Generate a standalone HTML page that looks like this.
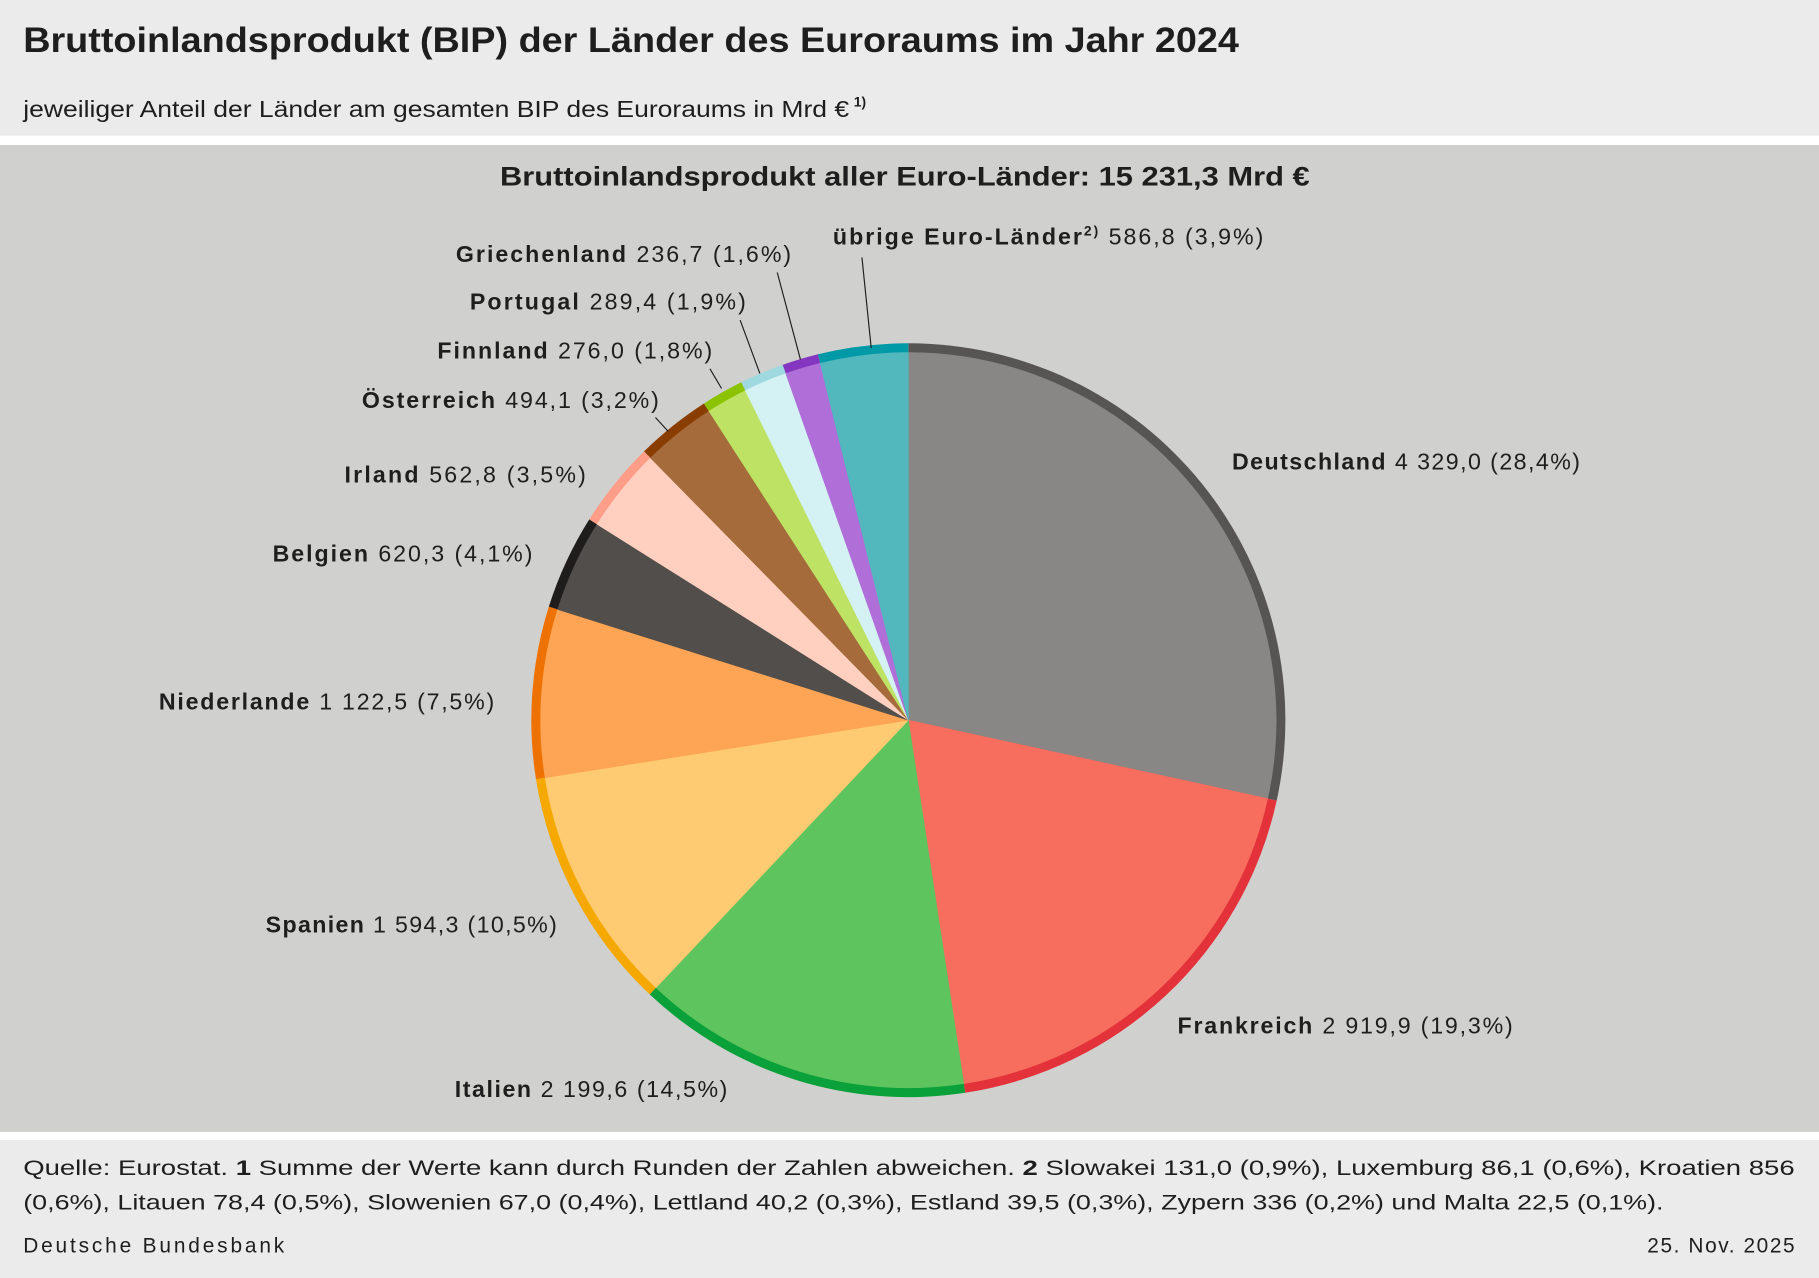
<!DOCTYPE html>
<html><head><meta charset="utf-8"><style>
html,body{margin:0;padding:0;background:#fff}
svg{display:block}
text{font-family:"Liberation Sans",sans-serif;fill:#1e1e1e}
.b{font-weight:bold}
</style></head><body>
<svg id="s" width="1819" height="1278" viewBox="0 0 1568 1102" preserveAspectRatio="none" xmlns="http://www.w3.org/2000/svg">
<rect x="0" y="0" width="1568" height="117" fill="#ebebeb"/>
<rect x="0" y="125" width="1568" height="851" fill="#d0d0ce"/>
<rect x="0" y="983" width="1568" height="119" fill="#ebebeb"/>
<text x="20" y="45" class="b" font-size="30" textLength="1048" lengthAdjust="spacingAndGlyphs">Bruttoinlandsprodukt (BIP) der Länder des Euroraums im Jahr 2024</text>
<text x="20" y="101" font-size="20" textLength="712" lengthAdjust="spacingAndGlyphs">jeweiliger Anteil der Länder am gesamten BIP des Euroraums in Mrd €</text>
<text x="736" y="92" font-size="12" class="b">1)</text>
<text x="431" y="160" class="b" font-size="23" textLength="698" lengthAdjust="spacingAndGlyphs">Bruttoinlandsprodukt aller Euro-Länder: 15 231,3 Mrd €</text>
<g id="pie"></g>
<g stroke="#1e1e1e" stroke-width="1">
<line x1="743" y1="222" x2="751" y2="300"/>
<line x1="670" y1="235" x2="690" y2="310"/>
<line x1="638" y1="276" x2="655" y2="322"/>
<line x1="612" y1="318" x2="622" y2="335"/>
<line x1="565" y1="360" x2="576" y2="372"/>
</g>
<g font-size="20">
<text x="718" y="211" textLength="371"><tspan class="b">übrige Euro-Länder</tspan><tspan class="b" font-size="12" dy="-8">2)</tspan><tspan dy="8"> 586,8  (3,9%)</tspan></text>
<text x="393" y="226" textLength="289"><tspan class="b">Griechenland</tspan> 236,7  (1,6%)</text>
<text x="405" y="267" textLength="238"><tspan class="b">Portugal</tspan> 289,4  (1,9%)</text>
<text x="377" y="309" textLength="237"><tspan class="b">Finnland</tspan> 276,0  (1,8%)</text>
<text x="312" y="352" textLength="256"><tspan class="b">Österreich</tspan> 494,1  (3,2%)</text>
<text x="297" y="416" textLength="208"><tspan class="b">Irland</tspan> 562,8  (3,5%)</text>
<text x="235" y="484" textLength="224"><tspan class="b">Belgien</tspan> 620,3  (4,1%)</text>
<text x="137" y="612" textLength="289"><tspan class="b">Niederlande</tspan> 1 122,5  (7,5%)</text>
<text x="229" y="804" textLength="251"><tspan class="b">Spanien</tspan> 1 594,3 (10,5%)</text>
<text x="392" y="946" textLength="235"><tspan class="b">Italien</tspan> 2 199,6 (14,5%)</text>
<text x="1015" y="891" textLength="289"><tspan class="b">Frankreich</tspan> 2 919,9  (19,3%)</text>
<text x="1062" y="405" textLength="300"><tspan class="b">Deutschland</tspan> 4 329,0 (28,4%)</text>
</g>
<g font-size="18">
<text x="20" y="1013" textLength="1527" lengthAdjust="spacingAndGlyphs">Quelle: Eurostat. <tspan class="b">1</tspan> Summe der Werte kann durch Runden der Zahlen abweichen. <tspan class="b">2</tspan> Slowakei 131,0 (0,9%), Luxemburg 86,1 (0,6%), Kroatien 856</text>
<text x="20" y="1043" textLength="1414" lengthAdjust="spacingAndGlyphs">(0,6%), Litauen 78,4 (0,5%), Slowenien 67,0 (0,4%), Lettland 40,2 (0,3%), Estland 39,5 (0,3%), Zypern 336 (0,2%) und Malta 22,5 (0,1%).</text>
<text x="20" y="1080" textLength="225">Deutsche Bundesbank</text>
<text x="1420" y="1080" textLength="127">25. Nov. 2025</text>
</g>
</svg>
<script>
var d=[[4329.0,"#888785","#575553"],[2919.9,"#f76d5e","#e3323a"],[2199.6,"#5ec45e","#0aa03a"],[1594.3,"#fecb72","#f5a800"],[1122.5,"#fda555","#ee7203"],[620.3,"#524e4b","#1f1d1b"],[562.8,"#ffd0c0","#ff9e88"],[494.1,"#a66b3b","#8a3d00"],[276.0,"#bde264","#8cc300"],[289.4,"#d4f1f3","#9ed9e0"],[236.7,"#b06fd8","#8436c0"],[586.8,"#53b8bd","#0099a8"]];
var tot=0;d.forEach(function(x){tot+=x[0]});
var cx=783,cy=621,R=325,r=317,a=0,g=document.getElementById("pie"),h="";
function p(rad,a0,a1){var x0=cx+rad*Math.sin(a0),y0=cy-rad*Math.cos(a0),x1=cx+rad*Math.sin(a1),y1=cy-rad*Math.cos(a1);
return "M"+cx+","+cy+"L"+x0+","+y0+"A"+rad+","+rad+" 0 "+((a1-a0)>Math.PI?1:0)+" 1 "+x1+","+y1+"Z";}
d.forEach(function(x){var b=a+x[0]/tot*2*Math.PI;
h+='<path d="'+p(R,a,b)+'" fill="'+x[2]+'"/><path d="'+p(r,a,b)+'" fill="'+x[1]+'" stroke="'+x[1]+'" stroke-width="0.5"/>';a=b;});
g.innerHTML=h;
</script>
</body></html>
